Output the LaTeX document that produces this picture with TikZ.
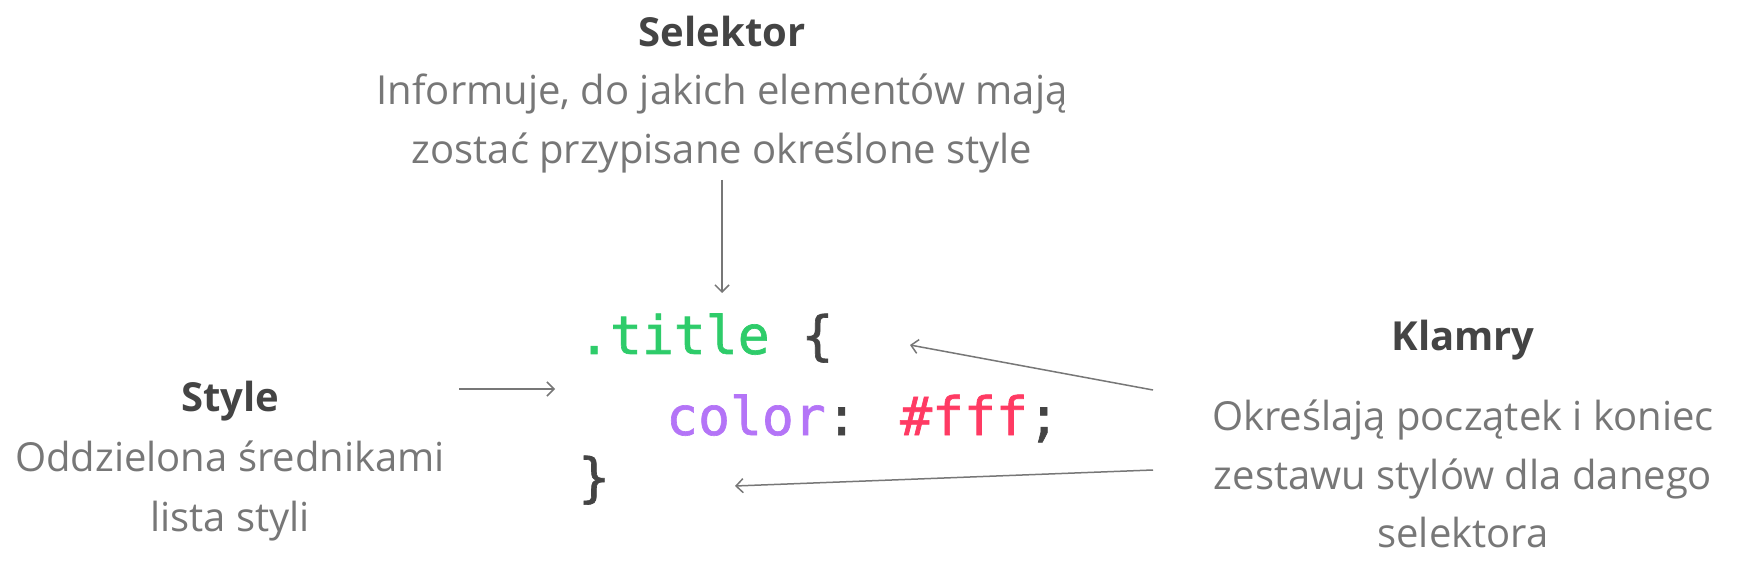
\documentclass[tikz,border=0pt]{standalone}
\usepackage{fontspec}
\setmainfont{Open Sans}
\newfontfamily\codefont[FakeBold=1.2]{DejaVu Sans Mono}
\usetikzlibrary{arrows.meta}
\definecolor{hd}{HTML}{444444}
\definecolor{gr}{HTML}{777777}
\definecolor{ar}{HTML}{777777}
\definecolor{cgreen}{HTML}{2ECC6A}
\definecolor{cpurple}{HTML}{B474F7}
\definecolor{cred}{HTML}{FF3A63}
\begin{document}
\begin{tikzpicture}[x=1pt,y=-1pt,
  ttl/.style={font=\fontsize{40}{48}\selectfont\bfseries, text=hd, inner sep=0pt, anchor=base},
  dsc/.style={font=\fontsize{40}{48}\selectfont, text=gr, inner sep=0pt, anchor=base},
  code/.style={font=\fontsize{53}{60}\selectfont\codefont, inner sep=0pt, anchor=base west},
  conn/.style={draw=ar, line width=1.5pt, -{Straight Barb[length=7pt,width=14pt]}}]
\useasboundingbox[fill=white] (0,0) rectangle (1741,561);
% Selektor
\node[ttl] (selT) at (722,47) {Selektor};
\node[dsc] (selD1) at (722,105) {Informuje, do jakich elementów mają};
\node[dsc] (selD2) at (722,164) {zostać przypisane określone style};
% Style
\node[ttl] (styT) at (230,411) {Style};
\node[dsc] (styD1) at (230,471) {Oddzielona średnikami};
\node[dsc] (styD2) at (230,531) {lista styli};
% Klamry
\node[ttl] (klT) at (1463,351) {Klamry};
\node[dsc] (klD1) at (1463,430) {Określają początek i koniec};
\node[dsc] (klD2) at (1463,489) {zestawu stylów dla danego};
\node[dsc] (klD3) at (1463,547) {selektora};
% code
\node[code] (line1) at (578,354) {\textcolor{cgreen}{.title} \textcolor{hd}{\{}};
\node[code] (line2) at (666,435) {\textcolor{cpurple}{color}\textcolor{hd}{:} \textcolor{cred}{\#fff}\textcolor{hd}{;}};
\node[code] (line3) at (578,496) {\textcolor{hd}{\}}};
% connectors
\coordinate (selA) at (722,180);
\coordinate (selB) at (722,293);
\coordinate (styA) at (459,389);
\coordinate (styB) at (555,389);
\coordinate (klA) at (1153,390);
\coordinate (klB) at (910,345);
\coordinate (klC) at (1153,470);
\coordinate (klE) at (735,486);
\draw[conn] (selA) -- (selB);
\draw[conn] (styA) -- (styB);
\draw[conn] (klA) -- (klB);
\draw[conn] (klC) -- (klE);
\end{tikzpicture}
\end{document}
